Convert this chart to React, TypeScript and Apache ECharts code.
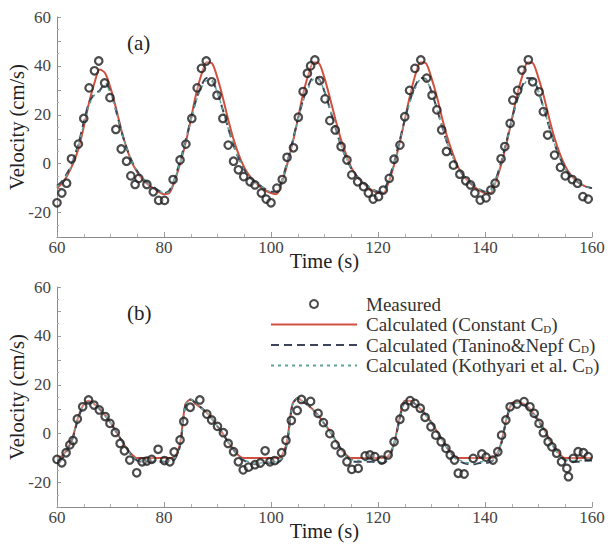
import React, { useEffect, useRef } from "react";
import * as echarts from "echarts";

// Time (s) for the calculated curves
const CURVE_T = [
  60, 61, 62, 63, 64, 65, 66, 67, 68, 69, 70, 71, 72, 73, 74, 75, 76, 77, 78, 79,
  80, 81, 82, 83, 84, 85, 86, 87, 88, 89, 90, 91, 92, 93, 94, 95, 96, 97, 98, 99,
  100, 101, 102, 103, 104, 105, 106, 107, 108, 109, 110, 111, 112, 113, 114, 115, 116, 117, 118, 119,
  120, 121, 122, 123, 124, 125, 126, 127, 128, 129, 130, 131, 132, 133, 134, 135, 136, 137, 138, 139,
  140, 141, 142, 143, 144, 145, 146, 147, 148, 149, 150, 151, 152, 153, 154, 155, 156, 157, 158, 159, 160,
];

// Panel (a): measured velocity (time, cm/s)
const A_MEAS_T = [
  60.0, 60.9, 61.8, 62.7, 64.0, 65.0, 66.0, 67.0, 67.8, 68.9, 69.9, 71.0, 72.0, 73.0, 73.8, 74.6, 75.3, 76.8, 78.0, 79.0, 80.1,
  81.7, 83.0, 84.1, 85.2, 86.2, 87.0, 87.9, 88.9, 89.9, 91.0, 92.0, 93.0, 93.9, 94.9, 96.1, 97.0, 98.2, 99.1, 100.0,
  101.1, 102.1, 103.0, 104.2, 105.1, 106.0, 106.8, 107.4, 108.2, 109.1, 110.1, 111.0, 112.0, 113.1, 114.2, 115.1, 116.2, 117.3, 118.2, 119.1, 120.1,
  121.0, 122.1, 123.0, 124.1, 125.0, 125.9, 126.9, 128.0, 129.1, 130.1, 131.0, 131.9, 132.8, 134.1, 135.3, 136.4, 137.3, 138.1, 139.1, 140.2, 141.1, 141.9,
  143.0, 143.7, 144.7, 145.2, 146.1, 146.9, 148.1, 148.9, 150.1, 150.9, 151.7, 153.0, 154.1, 155.0, 156.3, 157.3, 158.3, 159.3,
];
const A_MEAS_V = [
  -16, -12, -8, 2, 8, 18.5, 31, 38, 42, 33, 27, 14, 6, 1, -5, -8.5, -6, -8.5, -11.5, -15, -15,
  -6.5, 1.5, 8, 18.5, 31, 39, 42, 33.5, 28, 18.5, 7.6, 1, -2.5, -5.3, -7.4, -8.7, -12, -14.5, -16,
  -10, -6.5, 2.6, 6.5, 19, 29.5, 37, 40, 42.4, 34, 26.5, 17.6, 13.8, 7, 1.5, -4.6, -7.4, -9.4, -12, -14.5, -13.5,
  -10.8, -6, 1.8, 7.6, 19.2, 30, 39, 42.4, 35, 28, 22, 13.8, 5, -0.6, -4.3, -7, -8.7, -12, -14.9, -14, -10.8, -8,
  2, 7, 16.5, 26, 30, 38.3, 42.5, 33.5, 29.4, 21.3, 11.7, 3.5, -1.5, -5, -6.5, -8, -13.5, -14.5,
];

// Panel (a): calculated velocity with the three drag coefficients
const A_CONST = [
  -10, -8, -4.5, 0, 6, 15, 25, 33, 38.5, 37, 31, 23, 14, 6.5, 0.5, -3.5, -6.5, -8.5, -10, -11.5,
  -12.5, -12, -7, 0, 8, 18, 28.5, 36.5, 41.5, 41, 35, 27, 18, 10, 3.5, -1.5, -5, -7.5, -9.5, -11,
  -12, -12.5, -8, -0.5, 8, 18, 28.5, 36.5, 41.5, 41, 35, 27, 18.5, 10.5, 4, -1.5, -5, -7.5, -9.5, -11,
  -12, -12, -7.5, -0.5, 8, 18, 28, 36.5, 41.5, 41, 35, 27.5, 18.5, 10.5, 4, -1.5, -5, -7.5, -9.5, -11,
  -12, -12, -7.5, -0.5, 8, 18, 28, 36, 41.5, 41, 35, 27.5, 18.5, 10.5, 4, -1, -4.5, -7, -8.5, -9.5, -10,
];
const A_TANINO = [
  -9, -7, -3.5, 1.5, 8, 17, 25, 28.5, 30, 33, 29.5, 22, 13.5, 6.5, 1, -3, -6, -8, -9.5, -11,
  -12, -11, -6, 1, 9, 18, 26, 32, 35, 34, 29, 22, 14.5, 7.5, 2, -2.5, -5.5, -7.5, -9, -10.5,
  -11.5, -11.5, -7, 0.5, 9, 18, 26, 32, 35.5, 34.5, 29.5, 22.5, 15, 8, 2.5, -2, -5, -7.5, -9, -10.5,
  -11.5, -11, -6.5, 0.5, 9, 18, 26, 32, 35, 34.5, 29.5, 22.5, 15, 8, 2.5, -2, -5, -7.5, -9, -10.5,
  -11.5, -11, -6.5, 0.5, 9, 18, 26, 32, 35, 34.5, 29.5, 22.5, 15, 8, 2.5, -2, -5, -7, -8.5, -9.5, -10,
];
const A_KOTHYARI = [
  -9.5, -7.5, -4, 1, 7.5, 16, 24, 28, 29.5, 32, 29, 22, 13.5, 6.5, 1, -3, -6, -8, -9.5, -11,
  -12, -11.5, -6.5, 0.5, 8.5, 17.5, 25.5, 31, 34, 33.5, 29, 22, 14.5, 7.5, 2, -2.5, -5.5, -7.5, -9, -10.5,
  -11.5, -11.5, -7, 0, 8.5, 17.5, 25.5, 31, 34.5, 34, 29.5, 22.5, 15, 8, 2.5, -2, -5, -7.5, -9, -10.5,
  -11.5, -11.5, -7, 0, 8.5, 17.5, 25.5, 31, 34.5, 34, 29.5, 22.5, 15, 8, 2.5, -2, -5, -7.5, -9, -10.5,
  -11.5, -11.5, -7, 0, 8.5, 17.5, 25.5, 31, 34, 34, 29.5, 22.5, 15, 8, 2.5, -2, -5, -7, -8.5, -9.5, -10,
];

// Panel (b): measured velocity (time, cm/s)
const B_MEAS_T = [
  60.0, 60.9, 61.7, 62.4, 63.0, 63.8, 64.8, 65.9, 66.9, 67.9, 69.0, 69.9, 70.9, 71.8, 72.6, 73.6, 74.9, 75.9, 76.8, 77.7, 78.9, 80.1,
  81.1, 81.9, 83.0, 83.7, 84.9, 86.7, 88.0, 88.9, 90.0, 91.1, 92.0, 93.0, 93.9, 94.8, 95.8, 97.0, 98.0, 98.9, 99.8, 100.7,
  102.0, 102.8, 103.8, 104.9, 105.7, 107.4, 108.8, 109.8, 111.0, 112.0, 113.1, 114.2, 115.1, 116.3, 117.6, 118.5, 119.4, 120.7,
  121.9, 123.0, 124.1, 125.0, 126.0, 126.9, 127.9, 128.8, 129.9, 130.8, 131.8, 132.7, 133.5, 134.3, 135.0, 136.1, 137.8, 139.4, 140.2, 141.5,
  142.4, 143.1, 143.9, 144.7, 146.0, 147.3, 148.4, 149.2, 150.1, 150.9, 151.8, 152.5, 153.4, 154.3, 155.3, 155.6, 156.5, 157.4, 158.4, 159.3,
];
const B_MEAS_V = [
  -10.5, -11.9, -7.8, -4.6, -2.8, 6, 11, 13.8, 11.7, 9.7, 7, 4.2, 0.5, -4, -7, -10.8, -16, -11.5, -11.2, -10.5, -6.4, -11,
  -11.5, -7.5, -2.6, 5, 10.8, 13.8, 8, 5.6, 3, 0.4, -4, -7.4, -11.5, -14.8, -13.7, -12.7, -12, -7, -11.5, -11,
  -7.8, -2.7, 5.4, 9.5, 14, 13.2, 8.3, 4.5, 0, -4.6, -7.8, -11.5, -14.6, -14.2, -9.1, -8.7, -9.4, -10.8,
  -8.7, -3.3, 5.9, 11, 13.5, 12.4, 10.4, 6.7, 2.8, -0.6, -3.3, -6, -8.7, -10.8, -16.2, -16.5, -10.1, -8.3, -9.6, -10.8,
  -7.4, -0.6, 5.6, 11, 12.1, 13.1, 11, 8.3, 4.2, 0.4, -3.3, -5.4, -8, -11.5, -14.2, -17.6, -10.1, -7.4, -7.8, -9.4,
];

// Panel (b): calculated velocity with the three drag coefficients
const B_CONST = [
  -10, -9, -6, -1, 7, 12, 13.5, 12, 10, 7.5, 4.5, 1, -2.5, -6, -8.5, -10, -10, -10, -10, -10,
  -10, -10, -9.5, -4, 12, 14, 12, 10.5, 8.5, 6, 3, 0, -3.5, -6.5, -9, -10, -10, -10, -10, -10,
  -10, -10, -9, -3, 12, 14.5, 13, 11.5, 9.5, 7, 4, 1, -2.5, -6, -8.5, -10, -10, -10, -10, -10,
  -10, -10, -9, -4, 6, 13.5, 13.5, 12, 10, 7.5, 4.5, 1, -2.5, -6, -8.5, -10, -10, -10, -10, -10,
  -10, -10, -9, -4, 6, 12.5, 13, 12.5, 11, 8.5, 5.5, 2, -2, -5.5, -8.5, -10, -10, -10, -10, -10, -10,
];
const B_TANINO = [
  -11, -10, -6.5, -1.5, 6.5, 11.5, 13, 12, 10, 7.5, 4.5, 1, -2.5, -6, -9, -11, -11.5, -11.5, -11.5, -11.5,
  -11.5, -11.5, -10.5, -5, 11.5, 14, 12.5, 10.5, 8.5, 6, 3, 0, -3.5, -6.5, -9.5, -11, -12, -12.5, -12.5, -12,
  -12, -12, -10.5, -4, 11.5, 14.5, 13, 11.5, 9.5, 7, 4, 1, -2.5, -6, -9, -11, -11.5, -11.5, -11.5, -11.5,
  -12, -12, -10, -4.5, 5.5, 13, 13.5, 12, 10, 7.5, 4.5, 1, -2.5, -6, -9, -11, -12, -12.5, -12.5, -12,
  -12, -11.5, -10, -4.5, 5.5, 12, 12.5, 12, 10.5, 8, 5, 1.5, -2.5, -6, -9, -11, -11.5, -11.5, -11.5, -11, -11,
];
const B_KOTHYARI = [
  -10.5, -9.5, -6, -1, 6.5, 11.5, 13, 12, 10, 7.5, 4.5, 1, -2.5, -6, -9, -10.5, -11, -11, -11, -11,
  -11, -11, -10, -4.5, 11.5, 14, 12.5, 10.5, 8.5, 6, 3, 0, -3.5, -6.5, -9.5, -11, -11.5, -12, -12, -11.5,
  -11.5, -11.5, -10, -3.5, 11.5, 14.5, 13, 11.5, 9.5, 7, 4, 1, -2.5, -6, -9, -10.5, -11, -11, -11, -11,
  -11.5, -11.5, -9.5, -4, 5.5, 13, 13.5, 12, 10, 7.5, 4.5, 1, -2.5, -6, -9, -10.5, -11.5, -12, -12, -11.5,
  -11.5, -11, -9.5, -4, 5.5, 12, 12.5, 12, 10.5, 8, 5, 1.5, -2.5, -6, -9, -10.5, -11, -11, -11, -10.5, -10.5,
];

const X_MIN = 60;
const X_MAX = 160;
const Y_MIN = -30;
const Y_MAX = 60;

const NAMES = [
  "Measured",
  "Calculated (Constant CD)",
  "Calculated (Tanino&Nepf CD)",
  "Calculated (Kothyari et al. CD)",
];
const PANEL_TAGS = ["(a)", "(b)"];

const SERIF = "Liberation Serif";
const RED = "#d2503f";
const NAVY = "#3d4358";
const TEAL = "#5fa596";

const zip = (xs: number[], ys: number[]) => xs.map((x, i) => [x, ys[i]]);

function xAxisFor(gridIndex: number) {
  return {
    type: "value",
    gridIndex,
    min: X_MIN,
    max: X_MAX,
    interval: 20,
    name: "Time (s)",
    nameLocation: "middle",
    nameGap: 13,
    nameMoveOverlap: false,
    nameTextStyle: { fontFamily: SERIF, fontSize: 20.5, color: "#222" },
    axisLine: { show: true, onZero: false, lineStyle: { color: "#8a8a8a", width: 1 } },
    axisTick: { show: true, inside: true, length: 5, lineStyle: { color: "#9a9a9a" } },
    minorTick: { show: true, splitNumber: 4, length: 3, lineStyle: { color: "#b0b0b0" } },
    splitLine: { show: false },
    axisLabel: { fontFamily: SERIF, fontSize: 17, color: "#444", margin: 2 },
  };
}

function yAxisFor(gridIndex: number) {
  return {
    type: "value",
    gridIndex,
    min: Y_MIN,
    max: Y_MAX,
    interval: 10,
    name: "Velocity (cm/s)",
    nameLocation: "middle",
    nameGap: 30,
    nameMoveOverlap: false,
    nameTextStyle: { fontFamily: SERIF, fontSize: 20.5, color: "#222" },
    axisLine: { show: true, onZero: false, lineStyle: { color: "#8a8a8a", width: 1 } },
    axisTick: { show: true, inside: true, length: 4, lineStyle: { color: "#9a9a9a" } },
    minorTick: { show: true, splitNumber: 2, length: 2, lineStyle: { color: "#b0b0b0" } },
    splitLine: { show: false },
    axisLabel: {
      fontFamily: SERIF,
      fontSize: 17,
      color: "#444",
      margin: 6,
      formatter: (v: number) => (v % 20 === 0 ? String(v) : ""),
    },
  };
}

function panelSeries(
  idx: number,
  measT: number[],
  measV: number[],
  cConst: number[],
  cTanino: number[],
  cKoth: number[]
) {
  const lineBase = {
    type: "line",
    xAxisIndex: idx,
    yAxisIndex: idx,
    symbol: "none",
    smooth: 0.3,
    silent: true,
    z: 2,
  };
  return [
    {
      ...lineBase,
      name: NAMES[1],
      data: zip(CURVE_T, cConst),
      lineStyle: { color: RED, width: 2 },
      itemStyle: { color: RED },
    },
    {
      ...lineBase,
      name: NAMES[2],
      data: zip(CURVE_T, cTanino),
      lineStyle: { color: NAVY, width: 2, type: [8, 5] },
      itemStyle: { color: NAVY },
    },
    {
      ...lineBase,
      name: NAMES[3],
      data: zip(CURVE_T, cKoth),
      lineStyle: { color: TEAL, width: 1.5, type: [3, 4] },
      itemStyle: { color: TEAL },
    },
    {
      type: "scatter",
      name: NAMES[0],
      xAxisIndex: idx,
      yAxisIndex: idx,
      data: zip(measT, measV),
      symbol: "circle",
      symbolSize: 7.5,
      itemStyle: { color: "rgba(255,255,255,0.35)", borderColor: "#1e1e1e", borderWidth: 2.2 },
      silent: true,
      z: 5,
    },
  ];
}

export default function App() {
  const ref = useRef<HTMLDivElement>(null);

  useEffect(() => {
    if (!ref.current) return;
    const chart = echarts.init(ref.current, undefined, { renderer: "svg" });
    chart.setOption({
      animation: false,
      backgroundColor: "#ffffff",
      textStyle: { fontFamily: SERIF },
      grid: [
        { left: 57, top: 17, width: 535, height: 220, containLabel: false, outerBoundsMode: "none" },
        { left: 57, top: 287, width: 535, height: 220, containLabel: false, outerBoundsMode: "none" },
      ],
      xAxis: [xAxisFor(0), xAxisFor(1)],
      yAxis: [yAxisFor(0), yAxisFor(1)],
      legend: {
        orient: "vertical",
        left: 265,
        top: 289,
        itemWidth: 86,
        itemHeight: 8,
        itemGap: 0.5,
        selectedMode: false,
        data: NAMES.map((name, i) => (i === 0 ? { name } : { name, itemStyle: { opacity: 0 } })),
        formatter: (name: string) =>
          name.endsWith(" CD)") ? name.replace(" CD)", " C{sub|D})") : name,
        textStyle: {
          fontFamily: SERIF,
          fontSize: 19,
          lineHeight: 20,
          color: "#333",
          padding: [0, 0, 0, 4],
          rich: {
            sub: { fontFamily: SERIF, fontSize: 11, lineHeight: 20, color: "#333", padding: [8, 0, 0, 0] },
          },
        },
      },
      graphic: [
        {
          type: "text",
          left: 127,
          top: 32,
          style: { text: PANEL_TAGS[0], fontFamily: SERIF, fontSize: 21, fill: "#222" },
        },
        {
          type: "text",
          left: 127,
          top: 302,
          style: { text: PANEL_TAGS[1], fontFamily: SERIF, fontSize: 21, fill: "#222" },
        },
      ],
      series: [
        ...panelSeries(0, A_MEAS_T, A_MEAS_V, A_CONST, A_TANINO, A_KOTHYARI),
        ...panelSeries(1, B_MEAS_T, B_MEAS_V, B_CONST, B_TANINO, B_KOTHYARI),
      ],
    });
    return () => chart.dispose();
  }, []);

  return (
    <div
      ref={ref}
      style={{ position: "fixed", left: 0, top: 0, width: 608, height: 544, background: "#fff" }}
    />
  );
}
